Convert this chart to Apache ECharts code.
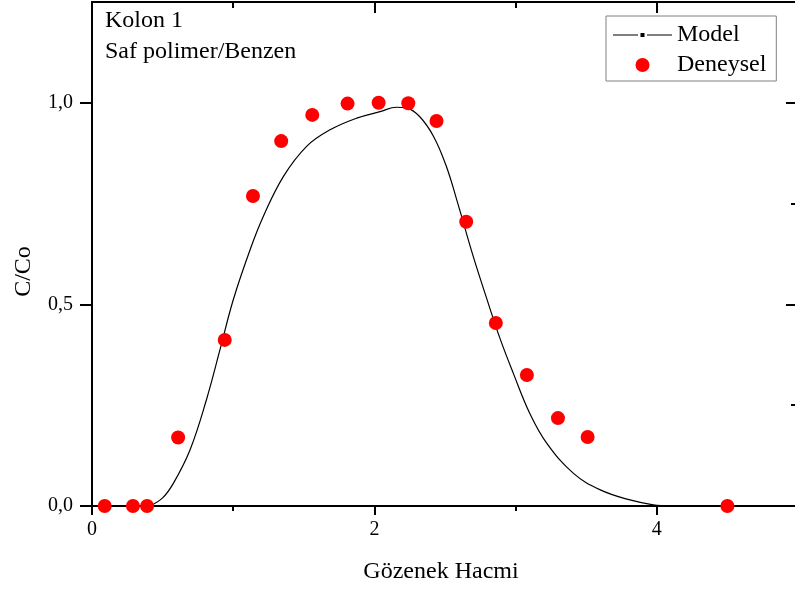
<!DOCTYPE html>
<html>
<head>
<meta charset="utf-8">
<script src="https://cdn.jsdelivr.net/npm/echarts@6/dist/echarts.min.js"></script>
<style>
html,body{margin:0;padding:0;background:#fff;}
#chart{width:795px;height:589px;}
</style>
</head>
<body>
<div id="chart"></div>
<script>
// Experimental points (Deneysel)
const expX = [0.09, 0.29, 0.39, 0.61, 0.94, 1.14, 1.34, 1.56, 1.81, 2.03, 2.24, 2.44, 2.65, 2.86, 3.08, 3.30, 3.51, 4.50];
const expY = [0.0, 0.0, 0.0, 0.170, 0.412, 0.769, 0.905, 0.970, 0.998, 1.0, 0.999, 0.955, 0.705, 0.454, 0.325, 0.218, 0.171, 0.0];
// Model curve
const modelX = [0.41, 0.50, 0.576, 0.694, 0.81, 0.906, 1.0, 1.119, 1.213, 1.355, 1.52, 1.686, 1.875, 2.04, 2.157, 2.23, 2.32, 2.42, 2.51, 2.59, 2.70, 2.795, 2.89, 2.984, 3.10, 3.22, 3.41, 3.60, 3.81, 3.975, 4.10];
const modelY = [0.0, 0.02, 0.056, 0.139, 0.263, 0.387, 0.511, 0.635, 0.718, 0.817, 0.892, 0.933, 0.962, 0.978, 0.989, 0.987, 0.966, 0.916, 0.842, 0.751, 0.619, 0.515, 0.415, 0.329, 0.230, 0.156, 0.081, 0.040, 0.015, 0.003, 0.0];
const xLabelsMajor = [0, 2, 4];
const yLabelsMajor = ['0,0', '0,5', '1,0'];
const titleLines = ['Kolon 1', 'Saf polimer/Benzen'];
const seriesNames = ['Model', 'Deneysel'];
const xName = 'Gözenek Hacmi';
const yName = 'C/Co';

const FONT = '"Liberation Serif", "Times New Roman", serif';
const chart = echarts.init(document.getElementById('chart'));

function xAx(opts) {
  return Object.assign({
    type: 'value', min: 0, max: 5, gridIndex: 0,
    axisLine: {show: false, onZero: false, lineStyle: {color: '#000', width: 2}},
    axisLabel: {show: false},
    splitLine: {show: false},
    axisTick: {show: true, lineStyle: {color: '#000', width: 2}}
  }, opts);
}
function yAx(opts) {
  return Object.assign({
    type: 'value', min: 0, max: 1.25, gridIndex: 0,
    axisLine: {show: false, onZero: false, lineStyle: {color: '#000', width: 2}},
    axisLabel: {show: false},
    splitLine: {show: false},
    axisTick: {show: true, lineStyle: {color: '#000', width: 2}}
  }, opts);
}

const option = {
  backgroundColor: '#fff',
  animation: false,
  grid: {left: 92, right: -3, top: 2, bottom: 83, containLabel: false, outerBoundsMode: 'none'},
  xAxis: [
    xAx({position: 'bottom', interval: 2,
      axisLine: {show: true, onZero: false, lineStyle: {color: '#000', width: 2}},
      axisTick: {show: true, inside: false, length: 9, lineStyle: {color: '#000', width: 2}},
      axisLabel: {show: true, margin: 14, fontSize: 20, fontFamily: FONT, color: '#000', showMaxLabel: false,
        formatter: v => xLabelsMajor.indexOf(v) >= 0 ? String(v) : ''},
      name: xName, nameLocation: 'middle', nameGap: 54,
      nameTextStyle: {fontSize: 24, fontFamily: FONT, color: '#000', padding: [0, 8, 0, 0]}}),
    xAx({position: 'bottom', interval: 1,
      axisTick: {show: true, inside: false, length: 5, lineStyle: {color: '#000', width: 2}}}),
    xAx({position: 'top', interval: 2,
      axisLine: {show: true, onZero: false, lineStyle: {color: '#000', width: 2}},
      axisTick: {show: true, inside: true, length: 11, lineStyle: {color: '#000', width: 2}}}),
    xAx({position: 'top', interval: 1,
      axisTick: {show: true, inside: true, length: 6, lineStyle: {color: '#000', width: 2}}})
  ],
  yAxis: [
    yAx({position: 'left', interval: 0.5,
      axisLine: {show: true, onZero: false, lineStyle: {color: '#000', width: 2}},
      axisTick: {show: true, inside: false, length: 12, lineStyle: {color: '#000', width: 2}},
      axisLabel: {show: true, margin: 19, fontSize: 20, fontFamily: FONT, color: '#000', showMaxLabel: false,
        formatter: v => { const i = Math.round(v / 0.5); return (Math.abs(v - i * 0.5) < 1e-9 && i < yLabelsMajor.length) ? yLabelsMajor[i] : ''; }},
      name: yName, nameLocation: 'middle', nameGap: 56,
      nameTextStyle: {fontSize: 24, fontFamily: FONT, color: '#000', padding: [0, 35, 0, 0]}}),
    yAx({position: 'right', interval: 0.5,
      axisLine: {show: true, onZero: false, lineStyle: {color: '#000', width: 2}},
      axisTick: {show: true, inside: true, length: 12, lineStyle: {color: '#000', width: 2}}}),
    yAx({position: 'right', interval: 0.25,
      axisTick: {show: true, inside: true, length: 7, lineStyle: {color: '#000', width: 2}}})
  ],
  legend: {
    orient: 'vertical', left: 606, top: 16,
    padding: [7, 10, 4, 7],
    itemWidth: 59, itemHeight: 14, itemGap: 6, itemTextGap: 6,
    borderColor: '#808080', borderWidth: 1, borderRadius: 0, backgroundColor: '#fff',
    textStyle: {fontSize: 24, fontFamily: FONT, color: '#000'},
    data: [
      {name: seriesNames[0], icon: 'path://M0,0h0.01v0.01h-0.01z M0,6.5h25v1h-25z M27.5,5h4v4h-4z M34,6.5h25v1h-25z M59,14h-0.01v-0.01h0.01z'},
      {name: seriesNames[1], icon: 'circle'}
    ]
  },
  graphic: [
    {type: 'text', left: 105, top: 5, z: 10,
      style: {text: titleLines.join('\n'), font: '24px ' + FONT, fill: '#000', lineHeight: 31}}
  ],
  series: [
    {name: seriesNames[0], type: 'line', xAxisIndex: 0, yAxisIndex: 0,
      data: modelX.map((x, i) => [x, modelY[i]]),
      smooth: 0.4, showSymbol: false, symbol: 'rect', symbolSize: 4,
      lineStyle: {color: '#000', width: 1.2}, itemStyle: {color: '#000'}, z: 3},
    {name: seriesNames[1], type: 'scatter', xAxisIndex: 0, yAxisIndex: 0,
      data: expX.map((x, i) => [x, expY[i]]),
      symbol: 'circle', symbolSize: 14, itemStyle: {color: '#ff0000', opacity: 1}, z: 4}
  ]
};
chart.setOption(option);
</script>
</body>
</html>
